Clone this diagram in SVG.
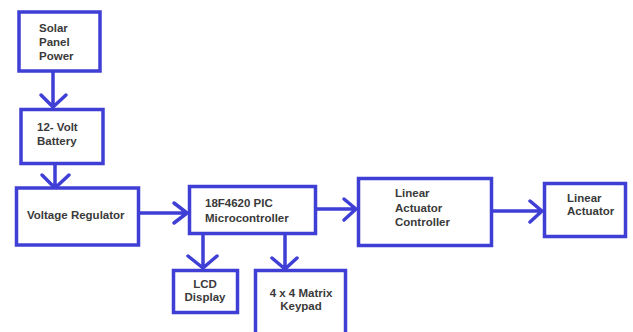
<svg xmlns="http://www.w3.org/2000/svg" width="633" height="332" viewBox="0 0 633 332">
<style>
.box{fill:#fff;stroke:#3f3fd6;stroke-width:3.5}
.ln{fill:none;stroke:#3f3fd6;stroke-width:3.5;stroke-linecap:round;stroke-linejoin:round}
text{font-family:"Liberation Sans",Arial,sans-serif;font-weight:bold;font-size:11.5px;fill:#3a3a3a}
</style>
<rect width="633" height="332" fill="#fff"/>
<g id="connectors">
<path class="ln" d="M53 72V107M41 95L53 107L66 95"/>
<path class="ln" d="M55 165V188M42 175L55 188L69 175"/>
<path class="ln" d="M140 213H187M174 203L187 213L174 223"/>
<path class="ln" d="M203 235V268M188 256L203 268L217 256"/>
<path class="ln" d="M285 235V269M272 258L285 269L297 258"/>
<path class="ln" d="M317 209H356M344 199L356 209L344 220"/>
<path class="ln" d="M491 211H542M530 201L542 211L530 222"/>
</g>
<g id="solar"><rect class="box" x="19" y="12" width="81" height="59"/><text x="39" y="32">Solar</text><text x="39" y="46">Panel</text><text x="39" y="59.5">Power</text></g>
<g id="battery"><rect class="box" x="21" y="109.5" width="82" height="54"/><text x="37" y="131">12- Volt</text><text x="37" y="145">Battery</text></g>
<g id="regulator"><rect class="box" x="16.5" y="188" width="122" height="57"/><text x="27" y="219">Voltage Regulator</text></g>
<g id="pic"><rect class="box" x="189.5" y="186.5" width="126" height="47"/><text x="205" y="207">18F4620 PIC</text><text x="205" y="222">Microcontroller</text></g>
<g id="lcd"><rect class="box" x="173.5" y="270.5" width="64" height="42"/><text x="205" y="287.5" text-anchor="middle">LCD</text><text x="205" y="301" text-anchor="middle">Display</text></g>
<g id="keypad"><rect class="box" x="255.5" y="270.5" width="90" height="66"/><text x="301" y="296.5" text-anchor="middle">4 x 4 Matrix</text><text x="301" y="310" text-anchor="middle">Keypad</text></g>
<g id="controller"><rect class="box" x="358.5" y="178.5" width="133" height="67"/><text x="395" y="197">Linear</text><text x="395" y="212">Actuator</text><text x="395" y="226">Controller</text></g>
<g id="actuator"><rect class="box" x="544.5" y="183.5" width="81" height="53"/><text x="567" y="201.5">Linear</text><text x="567" y="215">Actuator</text></g>
</svg>
